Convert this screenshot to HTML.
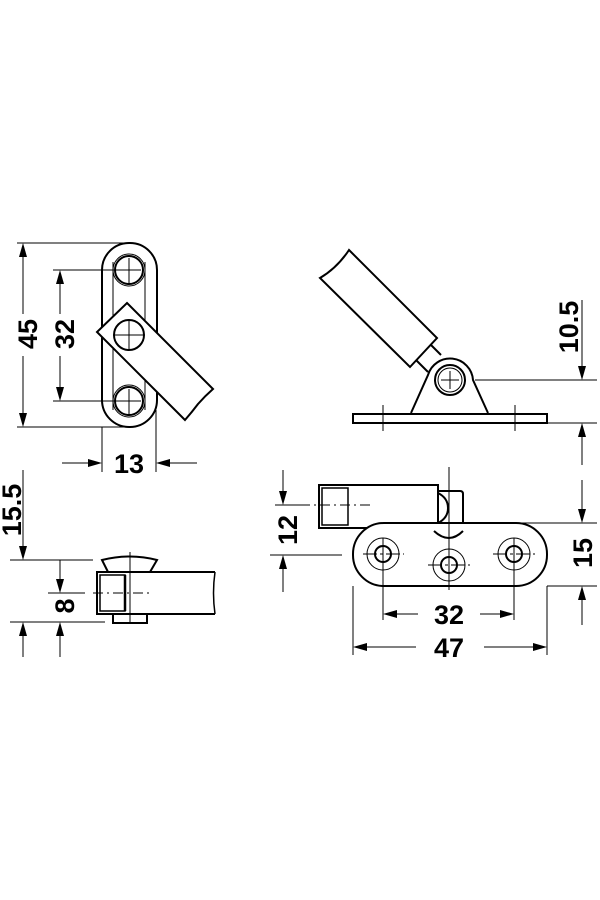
<!DOCTYPE html>
<html><head><meta charset="utf-8"><style>
html,body{margin:0;padding:0;background:#fff;}
svg{display:block}
text{font-family:"Liberation Sans",sans-serif;font-weight:bold;font-size:27px;fill:#000}
</style></head><body>
<svg width="600" height="900" viewBox="0 0 600 900" xmlns="http://www.w3.org/2000/svg">
<rect width="600" height="900" fill="#fff"/>
<g stroke="#000" fill="none" stroke-linecap="butt">
<!-- ===== Front view (top-left) ===== -->
<g stroke-width="1">
<line x1="17" y1="243" x2="130" y2="243"/>
<line x1="17" y1="427" x2="130" y2="427"/>
<line x1="53" y1="270" x2="140" y2="270"/>
<line x1="53" y1="401" x2="140" y2="401"/>
<line x1="23" y1="255" x2="23" y2="314"/>
<line x1="23" y1="356" x2="23" y2="415"/>
<line x1="60" y1="282" x2="60" y2="314"/>
<line x1="60" y1="356" x2="60" y2="389"/>
<line x1="102" y1="427" x2="102" y2="472"/>
<line x1="156" y1="410" x2="156" y2="472"/>
<line x1="62" y1="463" x2="90" y2="463"/>
<line x1="168" y1="463" x2="197" y2="463"/>
<line x1="113" y1="262" x2="113" y2="410"/>
<line x1="145" y1="262" x2="145" y2="410"/>
</g>
<rect x="102" y="243" width="55" height="184" rx="27" stroke-width="2"/>
<g stroke-width="2">
<circle cx="129" cy="270" r="14"/><circle cx="129" cy="401" r="14"/>
</g>
<g stroke-width="1">
<circle cx="129" cy="270" r="16"/><circle cx="129" cy="401" r="16"/>
<line x1="117" y1="270" x2="141" y2="270"/><line x1="129" y1="258" x2="129" y2="283"/>
<line x1="117" y1="401" x2="141" y2="401"/><line x1="129" y1="389" x2="129" y2="414"/>
</g>
<path d="M127 303 L213 389 Q205 396 198 404 Q192 412 185 420 L97 332 Z" fill="#fff" stroke-width="2"/>
<circle cx="129" cy="335" r="15" stroke-width="2" fill="#fff"/>
<line x1="113" y1="335" x2="145" y2="335" stroke="#000" stroke-width="1"/><line x1="129" y1="320" x2="129" y2="350" stroke="#000" stroke-width="1"/>

<!-- ===== Side view (top-right) ===== -->
<path d="M320 278 Q337 268 349 250 L437 338 L410 367 Z" fill="#fff" stroke-width="2"/>
<path d="M431 345 L441 355 M416 360 L428 372" stroke-width="2"/>
<path d="M411 413 L428 375 A23 23 0 0 1 473 380 L488 413" fill="#fff" stroke-width="2"/>
<circle cx="450" cy="380" r="15" stroke-width="2" fill="#fff"/>
<circle cx="450" cy="380" r="12" stroke-width="1"/>
<line x1="441" y1="380" x2="459" y2="380" stroke-width="1"/>
<line x1="450" y1="371" x2="450" y2="389" stroke-width="1"/>
<rect x="353" y="414" width="194" height="9" stroke-width="2" fill="#fff"/>
<g stroke-width="1">
<line x1="383" y1="405" x2="383" y2="431"/>
<line x1="515" y1="405" x2="515" y2="431"/>
<line x1="475" y1="380" x2="597" y2="380"/>
<line x1="547" y1="423" x2="597" y2="423"/>
<line x1="582" y1="300" x2="582" y2="368"/>
<line x1="582" y1="435" x2="582" y2="465"/>
</g>

<!-- ===== Top view (bottom-right) ===== -->
<path d="M438 491 L460 491 Q463 491 463 494 L463 528" stroke-width="2"/>
<path d="M438 493 Q448 498 448 508 Q448 518 438 523" stroke-width="2"/>
<rect x="319" y="485" width="119" height="43" stroke-width="2" fill="#fff"/>
<rect x="322" y="488" width="26" height="37" stroke-width="1.5"/>
<path d="M412 523 Q413 530 420 531 L480 531 Q486 530 488 523" stroke-width="1.5"/>
<rect x="353" y="523" width="194" height="63" rx="31" stroke-width="2" fill="#fff"/>
<path d="M434 531 Q449 545 463 531" stroke-width="2"/>
<g stroke-width="1">
<circle cx="383" cy="554" r="16"/><circle cx="449" cy="565" r="16"/><circle cx="514" cy="554" r="16"/>
<line x1="363" y1="554" x2="404" y2="554" stroke-dasharray="14 3 3 3"/>
<line x1="493" y1="554" x2="535" y2="554" stroke-dasharray="14 3 3 3"/>
<line x1="428" y1="565" x2="470" y2="565" stroke-dasharray="14 3 3 3"/>
<line x1="383" y1="538" x2="383" y2="620"/>
<line x1="514" y1="538" x2="514" y2="620"/>
<line x1="449" y1="467" x2="449" y2="590"/>
<line x1="300" y1="505" x2="372" y2="505" stroke-dasharray="10 4 2 4"/>
<line x1="275" y1="505" x2="310" y2="505"/>
<line x1="270" y1="555" x2="342" y2="555"/>
<line x1="283" y1="470" x2="283" y2="493"/>
<line x1="283" y1="567" x2="283" y2="592"/>
<line x1="465" y1="523" x2="597" y2="523"/>
<line x1="547" y1="586" x2="597" y2="586"/>
<line x1="582" y1="480" x2="582" y2="511"/>
<line x1="582" y1="598" x2="582" y2="625"/>
<line x1="353" y1="586" x2="353" y2="655"/>
<line x1="547" y1="586" x2="547" y2="655"/>
<line x1="395" y1="614" x2="418" y2="614"/>
<line x1="480" y1="614" x2="502" y2="614"/>
<line x1="365" y1="647" x2="416" y2="647"/>
<line x1="484" y1="647" x2="535" y2="647"/>
</g>
<g stroke-width="2">
<circle cx="383" cy="554" r="8"/><circle cx="449" cy="565" r="8"/><circle cx="514" cy="554" r="8"/>
</g>

<!-- ===== Side view (bottom-left) ===== -->
<path d="M102 560 Q130 553 157 560 L150 572 L108 572 Z" stroke-width="2" fill="#fff"/>
<rect x="113" y="614" width="34" height="9" stroke-width="2" fill="#fff"/>
<path d="M215 572 L97 572 L97 614 L215 614" stroke-width="2" fill="#fff"/>
<path d="M215 572 Q212 593 215 614" stroke-width="1.5"/>
<rect x="100" y="575" width="25" height="36" stroke-width="1.5"/>
<line x1="125" y1="575" x2="125" y2="611" stroke-width="2.5"/>
<g stroke-width="1">
<line x1="130" y1="552" x2="130" y2="622"/>
<line x1="10" y1="560" x2="93" y2="560"/>
<line x1="10" y1="622" x2="105" y2="622"/>
<line x1="48" y1="593" x2="85" y2="593"/>
<line x1="93" y1="593" x2="153" y2="593" stroke-dasharray="10 4 2 4"/>
<line x1="23" y1="470" x2="23" y2="548"/>
<line x1="23" y1="634" x2="23" y2="657"/>
<line x1="60" y1="560" x2="60" y2="580"/>
<line x1="60" y1="634" x2="60" y2="657"/>
</g>
</g>

<!-- arrowheads -->
<g fill="#000">
<polygon points="23,243 19,257 27,257"/><polygon points="23,427 19,413 27,413"/>
<polygon points="60,270 56,284 64,284"/><polygon points="60,401 56,387 64,387"/>
<polygon points="102,463 88,459 88,467"/><polygon points="156,463 170,459 170,467"/>
<polygon points="582,380 578,366 586,366"/><polygon points="582,423 578,437 586,437"/>
<polygon points="283,505 279,491 287,491"/><polygon points="283,555 279,569 287,569"/>
<polygon points="582,523 578,509 586,509"/><polygon points="582,586 578,600 586,600"/>
<polygon points="383,614 397,610 397,618"/><polygon points="514,614 500,610 500,618"/>
<polygon points="353,647 367,643 367,651"/><polygon points="547,647 533,643 533,651"/>
<polygon points="23,560 19,546 27,546"/><polygon points="23,622 19,636 27,636"/>
<polygon points="60,593 56,579 64,579"/><polygon points="60,622 56,636 64,636"/>
</g>

<!-- labels -->
<text transform="translate(37,334) rotate(-90)" text-anchor="middle">45</text>
<text transform="translate(74,334) rotate(-90)" text-anchor="middle">32</text>
<text x="129" y="473" text-anchor="middle">13</text>
<text transform="translate(578,327) rotate(-90)" text-anchor="middle">10.5</text>
<text transform="translate(297,530) rotate(-90)" text-anchor="middle">12</text>
<text transform="translate(592,553) rotate(-90)" text-anchor="middle">15</text>
<text x="449" y="624" text-anchor="middle">32</text>
<text x="449" y="657" text-anchor="middle">47</text>
<text transform="translate(21,510) rotate(-90)" text-anchor="middle">15.5</text>
<text transform="translate(74,606) rotate(-90)" text-anchor="middle">8</text>
</svg>
</body></html>
